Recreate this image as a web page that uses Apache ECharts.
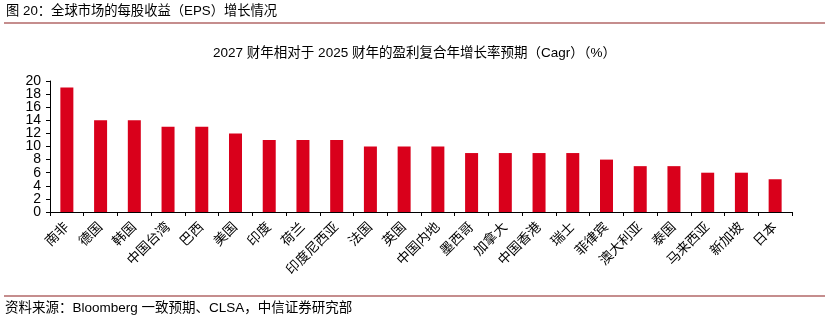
<!DOCTYPE html>
<html><head><meta charset="utf-8">
<script src="https://cdn.jsdelivr.net/npm/echarts@6/dist/echarts.min.js"></script>
<style>html,body{margin:0;padding:0;background:#fff}#c{width:829px;height:323px}</style>
</head><body><div id="c"></div>
<script>
const categories = ['南非','德国','韩国','中国台湾','巴西','美国','印度','荷兰','印度尼西亚','法国','英国','中国内地','墨西哥','加拿大','中国香港','瑞士','菲律宾','澳大利亚','泰国','马来西亚','新加坡','日本'];
const values = [19,14,14,13,13,12,11,11,11,10,10,10,9,9,9,9,8,7,7,6,6,5];
const yTicks = [0,2,4,6,8,10,12,14,16,18,20];
const font = '"Liberation Sans", Arial, "Noto Sans CJK SC", sans-serif';
const chart = echarts.init(document.getElementById('c'));
function yAxisPart(k, main) {
  return {
    type: 'value', min: 0, max: 20, interval: 2, position: 'left',
    axisLine: {show: main, onZero: false, lineStyle:{color:'#000', width:1}},
    axisTick: {show: main, inside:false, length:4, lineStyle:{color:'#000'}},
    splitLine: {show:false},
    axisLabel: {color:'#000', fontSize: 14, fontFamily: font, margin: 9,
      showMinLabel: true, showMaxLabel: true, hideOverlap: false,
      formatter: v => (yTicks.includes(v) && Math.round(v / 2) % 3 === k) ? String(v) : ''}
  };
}
chart.setOption({
  animation: false,
  graphic: [
    {type:'text', left: 6, top: 5, style:{text:'图 20：全球市场的每股收益（EPS）增长情况', font:'13.3px '+font, fill:'#000'}},
    {type:'line', shape:{x1:4,y1:23,x2:825,y2:23}, style:{stroke:'#8b1c1c', lineWidth:1.2}},
    {type:'text', left: 'center', top: 47, style:{text:'2027 财年相对于 2025 财年的盈利复合年增长率预期（Cagr）（%）', font:'13.5px '+font, fill:'#000'}},
    {type:'line', shape:{x1:4,y1:296,x2:825,y2:296}, style:{stroke:'#8b1c1c', lineWidth:1.2}},
    {type:'text', left: 5, top: 302, style:{text:'资料来源：Bloomberg 一致预期、CLSA，中信证券研究部', font:'13.5px '+font, fill:'#000'}}
  ],
  grid: {left: 50, right: 37, top: 81, bottom: 111, containLabel: false},
  xAxis: {
    type: 'category', data: categories,
    axisLine: {lineStyle:{color:'#000', width:1}},
    axisTick: {show:true, length:4, lineStyle:{color:'#000'}},
    axisLabel: {rotate: 45, color:'#000', fontSize: 13.5, fontFamily: font, interval: 0, margin: 13}
  },
  yAxis: [yAxisPart(0, true), yAxisPart(1, false), yAxisPart(2, false)],
  series: [{type:'bar', data: values, barWidth: 13, yAxisIndex: 0, itemStyle:{color:'#d9001b'}}]
});
</script></body></html>
